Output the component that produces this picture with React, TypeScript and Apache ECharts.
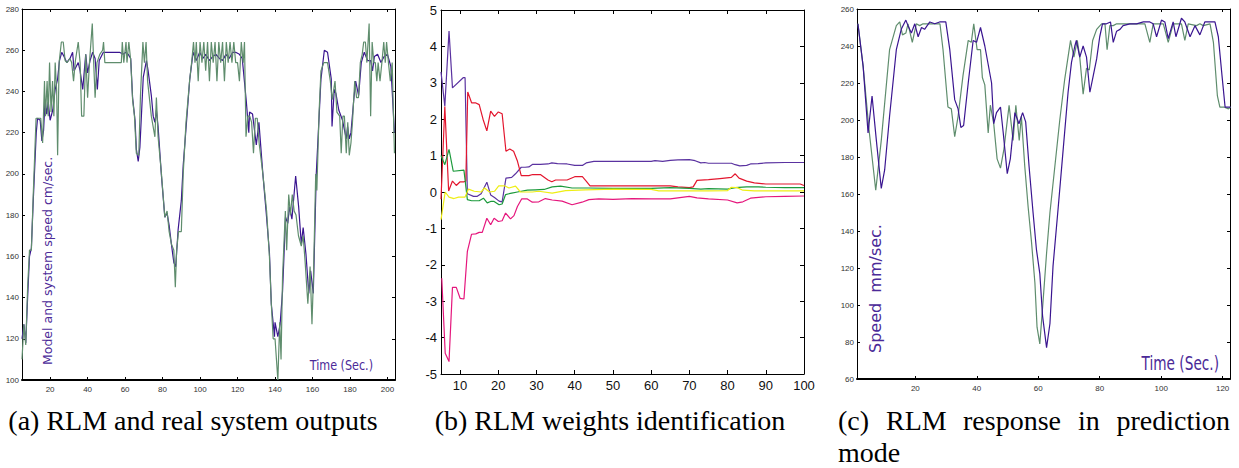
import React, { useEffect, useRef } from "react";
import * as echarts from "echarts";

// ---------- (a) RLM and real system outputs ----------
const A_X_TICKS = [20, 40, 60, 80, 100, 120, 140, 160, 180, 200];
const A_Y_TICKS = [100, 120, 140, 160, 180, 200, 220, 240, 260, 280];
const A_MODEL: [number, number][] = [
  [5, 120], [6, 127], [7, 118], [8, 140], [9, 160], [10, 164], [11, 187], [12.6, 220], [13.3, 227], [14.7, 226],
  [15.6, 216], [16.5, 221], [17.3, 236], [18.2, 229], [19, 235], [20, 226], [21.4, 231], [22.7, 241], [24, 246],
  [25, 255], [26.2, 259], [27.4, 257], [28.9, 254], [30.6, 256], [32, 259], [32.8, 250], [35, 254], [36, 250],
  [37.4, 241], [39, 258], [40, 249], [41.3, 255], [42.7, 259], [44, 256], [45.2, 241], [46.2, 255], [48.4, 259],
  [50, 259], [57, 259], [59, 258], [60.4, 259], [61.7, 258], [63, 256], [64, 237], [65.3, 226], [66, 212],
  [67, 206], [67.9, 213], [69.7, 247], [71.4, 255], [72.3, 250], [74, 238], [75, 228], [75.9, 225], [76.7, 231],
  [77.6, 223], [79.4, 199], [81.2, 179], [82.4, 181], [83.5, 175], [84.7, 166], [86, 157], [87, 155], [88.3, 173],
  [90, 187], [91, 204], [92.5, 222], [94.5, 246], [96.3, 259], [98, 255], [99.8, 259], [101.5, 256], [103, 258],
  [105, 255], [106.8, 257], [108.5, 258], [110.3, 256], [112, 255], [113.8, 258], [115.5, 256], [117.4, 259],
  [119, 259], [121, 258], [122.5, 256], [124.6, 236], [126, 220], [126.4, 230], [128, 229], [130, 214],
  [131.4, 225], [133.5, 200], [135.3, 181], [137, 162], [138, 137], [139.7, 121], [140, 128], [141.5, 121],
  [142.7, 127], [144, 143], [145.6, 179], [146.8, 176], [147.7, 184], [149, 178], [151, 199], [152.6, 184],
  [154, 166], [155, 174], [156.5, 161], [158, 142], [159, 153], [160.4, 142], [162, 200], [164.5, 246],
  [166.3, 260], [168, 259], [170, 246], [170.4, 223], [171.6, 241], [172.5, 239], [174, 231], [176, 226],
  [178, 217], [178.7, 223], [179.6, 217], [180.5, 220], [182, 236], [183, 245], [184.6, 238], [186, 254],
  [187.6, 259], [189.4, 255], [191, 255], [192, 250], [193, 257], [194.7, 258], [196.5, 254], [198.2, 257],
  [200, 258], [201.8, 252], [203.7, 220],
];
const A_SYSTEM: [number, number][] = [
  [5, 110], [6, 127], [7, 117], [8, 145], [9, 163], [10, 163], [11, 190], [12.5, 227], [14, 227], [15, 227],
  [16, 215], [17, 245], [17.5, 228], [18.4, 245], [19, 228], [19.7, 254], [20.5, 230], [21.3, 245], [22, 228],
  [22.7, 254], [23.5, 240], [24, 209], [24.8, 254], [26, 264], [27, 264], [28, 255], [29, 254], [30.5, 256],
  [31.5, 254], [32.5, 245], [33.5, 255], [35, 264], [36, 254], [36.8, 228], [38, 228], [39, 258], [40, 237],
  [41, 254], [42.5, 273], [43.2, 255], [44, 237], [45, 254], [46.5, 258], [48, 260], [48.5, 264], [49.2, 254],
  [50, 254], [58, 254], [58.5, 264], [59.3, 254], [60.5, 264], [61, 254], [62, 264], [63, 255], [64, 236],
  [65, 228], [66, 210], [67.3, 209], [68.2, 238], [69.5, 264], [70.3, 254], [71.2, 264], [72, 245], [74, 228],
  [75.9, 218], [76.7, 237], [77.6, 218], [79.4, 200], [81.2, 179], [82.4, 182], [83.5, 172], [84.7, 166],
  [86, 163], [86.8, 145], [87.5, 163], [88.5, 172], [90, 172], [91, 200], [92.5, 225], [94.5, 246], [95.5, 254],
  [96.5, 264], [97.3, 254], [98, 264], [99, 245], [100, 264], [101, 254], [102, 264], [103, 250], [104, 264],
  [105, 245], [106, 264], [107, 254], [108, 264], [109, 245], [110, 264], [111, 254], [112, 264], [113, 245],
  [114, 264], [115, 254], [116, 264], [117, 254], [118, 264], [119, 254], [120, 254], [121, 245], [122, 264],
  [123, 254], [123.7, 264], [124.5, 218], [125.5, 228], [126.5, 228], [127.5, 225], [128.5, 210], [129.5, 227],
  [130.5, 227], [131.5, 215], [133.5, 200], [135.5, 182], [137, 160], [138, 137], [139, 120], [140, 120],
  [141.5, 100], [142.5, 128], [143.2, 110], [144, 150], [145.5, 182], [146.2, 163], [147.3, 190], [148.2, 180],
  [149.2, 190], [150.2, 182], [151.2, 180], [152.5, 170], [154, 165], [155, 170], [156, 158], [157.5, 137],
  [158.7, 155], [159.7, 127], [160.5, 150], [161.7, 200], [162.3, 192], [163.5, 230], [164.5, 250], [166, 254],
  [168, 254], [169.5, 245], [170.5, 236], [172, 245], [173, 230], [174.5, 228], [175.3, 210], [176.2, 228],
  [177, 228], [178, 210], [178.8, 225], [179.6, 209], [180.5, 215], [181.3, 225], [182.5, 245], [183.5, 237],
  [184.5, 237], [185.5, 254], [186.5, 258], [187.3, 264], [188.2, 264], [189, 254], [190.2, 273], [191, 228],
  [191.8, 264], [192.7, 254], [193.5, 254], [194.3, 245], [195, 254], [196, 245], [197, 254], [198, 264],
  [198.8, 254], [199.5, 264], [200.5, 254], [201.5, 245], [202.5, 254], [203.7, 210],
];

// ---------- (b) RLM weights identification ----------
const B_X_TICKS = [10, 20, 30, 40, 50, 60, 70, 80, 90, 100];
const B_Y_TICKS = [-5, -4, -3, -2, -1, 0, 1, 2, 3, 4, 5];
const B_PURPLE: [number, number][] = [
  [5, 3.3], [6, 2.36], [7.1, 4.42], [8, 2.86], [10.8, 3.14], [11.3, 3.14], [11.9, -0.05], [13.5, -0.12],
  [14.5, -0.12], [15.5, -0.05], [17, 0.27], [18, -0.08], [19, -0.15], [20.2, -0.25], [21, -0.27], [22, 0.38],
  [23.5, 0.4], [24.5, 0.5], [26, 0.68], [27, 0.68], [28, 0.69], [29, 0.76], [31, 0.76], [33, 0.77], [34, 0.8],
  [35.5, 0.78], [38, 0.77], [40, 0.73], [42, 0.73], [43, 0.8], [45, 0.84], [50, 0.84], [55, 0.84], [60, 0.84],
  [61, 0.86], [63, 0.84], [65, 0.87], [67, 0.88], [70, 0.89], [71.5, 0.86], [73, 0.8], [74, 0.81], [75, 0.79],
  [78, 0.79], [81, 0.79], [82, 0.75], [83.2, 0.72], [85, 0.73], [86, 0.77], [88, 0.78], [90, 0.8], [95, 0.81],
  [100, 0.81],
];
const B_RED: [number, number][] = [
  [5, -0.2], [6, 2.35], [7, 0.03], [8, 0.3], [9, 0.18], [10, 0.28], [11, 0.28], [11.5, 0.3], [12, 2.75],
  [13, 2.45], [14, 2.45], [15, 2.4], [16, 2.0], [17, 1.68], [18, 2.22], [19, 2.08], [20, 2.2], [21, 2.15],
  [22, 1.12], [23, 1.18], [24, 1.12], [25, 0.85], [26, 0.45], [28, 0.45], [29, 0.48], [31, 0.48], [33, 0.33],
  [34, 0.28], [35, 0.33], [38, 0.33], [40, 0.42], [42, 0.42], [43, 0.3], [44, 0.17], [50, 0.17], [60, 0.17],
  [65, 0.17], [67, 0.14], [70, 0.12], [71, 0.14], [72, 0.32], [75, 0.34], [78, 0.37], [81, 0.4], [82, 0.5],
  [83, 0.38], [85, 0.3], [87, 0.25], [90, 0.22], [99, 0.22], [100, 0.18],
];
const B_GREEN: [number, number][] = [
  [5, 1.0], [6, 0.75], [7.1, 1.17], [8.2, 0.57], [11, 0.6], [11.9, -0.21], [13, -0.24], [15, -0.24],
  [16.1, -0.17], [17.1, -0.3], [18, -0.26], [18.9, -0.26], [20.2, -0.35], [21, -0.33], [21.9, -0.07],
  [23.5, -0.03], [25, 0.0], [27.6, 0.05], [29.7, 0.06], [32, 0.07], [34.1, 0.14], [36.3, 0.16], [39.3, 0.11],
  [43.7, 0.11], [50, 0.1], [60, 0.1], [65, 0.12], [70, 0.1], [73, 0.08], [75, 0.09], [80, 0.08], [82, 0.12],
  [85, 0.14], [88, 0.14], [90, 0.13], [95, 0.12], [100, 0.12],
];
const B_YELLOW: [number, number][] = [
  [5, -0.76], [6.1, 0.0], [7.1, -0.14], [8.4, -0.18], [9.6, -0.14], [11.3, -0.14], [12.2, 0.08], [13.7, 0.02],
  [15.5, 0.0], [16.4, 0.11], [17.7, 0.0], [19, 0.02], [20.1, 0.17], [21.6, 0.17], [22.8, 0.11], [24.5, 0.16],
  [25.8, 0.0], [28.9, 0.0], [30.6, 0.02], [34.1, -0.03], [37.6, 0.04], [42.8, 0.06], [50, 0.08], [60, 0.07],
  [62, 0.03], [70, 0.03], [75, 0.03], [80, 0.04], [81, 0.13], [82.5, 0.12], [84, 0.05], [87, 0.03], [100, 0.03],
];
const B_MAGENTA: [number, number][] = [
  [5.2, -2.37], [6.1, -4.43], [7.1, -4.66], [8, -2.62], [9, -2.62], [10, -2.92], [11, -2.94], [11.9, -1.63],
  [13, -1.16], [14.1, -1.15], [15, -1.11], [15.8, -1.11], [17, -0.72], [18, -0.9], [18.9, -0.72], [20, -0.81],
  [21, -0.79], [21.9, -0.58], [23.2, -0.74], [24.1, -0.65], [25, -0.4], [26.1, -0.19], [27.6, -0.19],
  [28.9, -0.28], [30.6, -0.27], [32.3, -0.18], [34.1, -0.22], [36.7, -0.25], [39.3, -0.35], [41.9, -0.28],
  [43.7, -0.21], [46.3, -0.19], [50, -0.2], [55, -0.18], [60, -0.19], [65, -0.19], [70, -0.12], [72, -0.16],
  [75, -0.19], [80, -0.22], [82.5, -0.3], [84, -0.27], [86, -0.17], [90, -0.13], [95, -0.12], [100, -0.11],
];

// ---------- (c) RLM response in prediction mode ----------
const C_X_TICKS = [20, 40, 60, 80, 100, 120];
const C_Y_TICKS = [60, 80, 100, 120, 140, 160, 180, 200, 220, 240, 260];
const C_MODEL: [number, number][] = [
  [1.3, 252], [3, 229], [4.6, 193], [5.9, 213], [7.3, 189], [8.9, 163], [10, 173], [11.6, 202], [13.8, 238],
  [15.4, 249], [16.9, 254], [17.6, 251], [18.7, 247], [19.8, 252], [20.9, 245], [22, 250], [23, 249],
  [24.7, 253], [26.3, 252], [27.9, 253], [29.9, 253], [31.2, 238], [32.8, 211], [33.9, 206], [34.8, 196],
  [35.7, 197], [37.2, 220], [38.8, 243], [39.9, 242], [41.2, 250], [42.6, 240], [43.7, 230], [44.8, 220],
  [45.5, 198], [46.4, 204], [47.7, 207], [48.6, 193], [49.9, 171], [50.9, 179], [52.4, 204], [53.7, 198],
  [54.9, 204], [55.9, 199], [57, 175], [58.3, 150], [59.4, 130], [60.5, 117], [61.4, 94], [62.7, 77],
  [63.8, 90], [64.8, 121], [66.5, 153], [68.1, 184], [69.7, 215], [70.8, 231], [71.9, 240], [72.4, 243],
  [73.5, 234], [74.6, 240], [75.7, 234], [76.8, 215], [77.9, 224], [79, 233], [80, 245], [80.9, 252],
  [82.2, 252], [83.5, 253], [84.4, 242], [85.5, 248], [86.6, 249], [87.6, 251], [89.8, 252], [92, 252],
  [94.2, 253], [96.3, 253], [97.4, 252], [98.5, 245], [100.1, 254], [101.2, 253], [102.3, 244], [103.9, 253],
  [104.8, 245], [106.6, 255], [107.7, 253], [109.4, 245], [111, 251], [112.6, 246], [114.2, 253], [115.9, 253],
  [117.5, 253], [118.6, 245], [119.8, 224], [120.8, 207], [121.9, 207], [122.6, 207],
];
const C_SYSTEM: [number, number][] = [
  [1.3, 252], [3, 229], [4.9, 195], [7.1, 162], [8.9, 189], [11.6, 238], [13.8, 251], [14.9, 253], [15.8, 246],
  [16.9, 247], [17.6, 252], [19, 242], [20.3, 252], [21.4, 251], [22.5, 252], [24.7, 252], [27.4, 252],
  [28, 252], [29, 238], [30.6, 207], [31.7, 206], [32.8, 191], [33.9, 202], [35.5, 224], [37.2, 243],
  [38.2, 242], [39, 252], [40.1, 238], [41.2, 238], [41.8, 223], [42.6, 219], [43.7, 193], [44.4, 208],
  [45.5, 198], [46.6, 179], [47.7, 174], [48.8, 184], [50.5, 208], [51.8, 189], [52.7, 208], [53.8, 189],
  [54.5, 202], [55.6, 175], [56.7, 153], [57.8, 134], [58.9, 112], [59.6, 88], [60.5, 79], [61.6, 103],
  [62.7, 128], [63.8, 150], [65.4, 175], [67, 200], [68.6, 222], [70.5, 243], [71.6, 234], [72.7, 243],
  [73.5, 234], [74.6, 214], [75.7, 228], [76.6, 227], [77.7, 243], [79, 249], [80.6, 252], [81.7, 252],
  [82.4, 238], [83.3, 251], [84.4, 251], [85.5, 252], [87.6, 252], [89.8, 252], [93, 252], [94.7, 252],
  [96.3, 242], [97.4, 252], [100.7, 252], [102.3, 242], [103.9, 252], [106.6, 252], [107.7, 243], [108.8, 252],
  [111.5, 251], [112.6, 252], [113.7, 251], [115.9, 252], [117, 242], [118.3, 213], [119.1, 207], [120.4, 207],
  [121.9, 206], [122.6, 207],
];

const CAPTION_A = "(a) RLM and real system outputs";
const CAPTION_B = "(b) RLM weights identification";
const CAPTION_C_WORDS = ["(c)", "RLM", "response", "in", "prediction"];
const CAPTION_C_LINE2 = "mode";

const NARROW = "'Liberation Sans Narrow', 'Arial Narrow', 'Liberation Sans', sans-serif";
const SERIF = "'Liberation Serif', 'Times New Roman', serif";
const LABEL_PURPLE = "#4b2a98";

function frameAxes(
  gridIndex: number, xMin: number, xMax: number, xTicks: number[], yMin: number, yMax: number, yTicks: number[],
  o: { fontSize: number; color: string; bottomWidth: number; tickLen: number; xMargin: number; yMargin: number }
) {
  const tick = (vals: number[]) => ({ show: true, inside: true, length: o.tickLen, customValues: vals, lineStyle: { color: "#000", width: 1 } });
  const line = (w: number) => ({ show: true, onZero: false, lineStyle: { color: "#000", width: w } });
  const label = (vals: number[], margin: number) => ({
    show: true, customValues: vals, fontSize: o.fontSize, color: o.color, fontFamily: NARROW, margin,
  });
  const xs = [
    { type: "value", gridIndex, min: xMin, max: xMax, position: "bottom", axisLine: line(o.bottomWidth), axisTick: tick(xTicks), axisLabel: label(xTicks, o.xMargin), splitLine: { show: false } },
    { type: "value", gridIndex, min: xMin, max: xMax, position: "top", axisLine: line(1), axisTick: tick(xTicks), axisLabel: { show: false }, splitLine: { show: false } },
  ];
  const ys = [
    { type: "value", gridIndex, min: yMin, max: yMax, position: "left", axisLine: line(1), axisTick: tick(yTicks), axisLabel: label(yTicks, o.yMargin), splitLine: { show: false } },
    { type: "value", gridIndex, min: yMin, max: yMax, position: "right", axisLine: line(1), axisTick: tick(yTicks), axisLabel: { show: false }, splitLine: { show: false } },
  ];
  return { xs, ys };
}

function line(data: [number, number][], axis: number, color: string, width = 1.2) {
  return {
    type: "line", xAxisIndex: axis, yAxisIndex: axis, data, showSymbol: false, symbol: "none", silent: true,
    lineStyle: { color, width }, itemStyle: { color },
  };
}

export default function App() {
  const ref = useRef<HTMLDivElement>(null);
  useEffect(() => {
    if (!ref.current) return;
    const chart = echarts.init(ref.current, null, { renderer: "svg" });
    const smallOpts = { fontSize: 8, color: "#333", bottomWidth: 2, tickLen: 3, xMargin: 5, yMargin: 3 };
    const a = frameAxes(0, 5, 204, A_X_TICKS, 100, 280, A_Y_TICKS, smallOpts);
    const b = frameAxes(1, 5, 100, B_X_TICKS, -5, 5, B_Y_TICKS, { fontSize: 13, color: "#111", bottomWidth: 1, tickLen: 4, xMargin: 5, yMargin: 4 });
    const c = frameAxes(2, 1, 122.4, C_X_TICKS, 60, 260, C_Y_TICKS, smallOpts);

    const capFont = "28px " + SERIF;
    const cX = [838, 886, 963, 1078, 1230];
    const option: any = {
      animation: false,
      backgroundColor: "#fff",
      grid: [
        { left: 22, top: 9, width: 373, height: 371 },
        { left: 441, top: 10, width: 363, height: 364 },
        { left: 857, top: 9, width: 373, height: 370 },
      ],
      xAxis: [...a.xs, ...b.xs, ...c.xs],
      yAxis: [...a.ys, ...b.ys, ...c.ys],
      series: [
        line(A_MODEL, 0, "#3a1590"),
        line(A_SYSTEM, 0, "#5f8d6d"),
        line(B_PURPLE, 2, "#5a32a0"),
        line(B_RED, 2, "#e3162e"),
        line(B_GREEN, 2, "#1c9a3c"),
        line(B_YELLOW, 2, "#eeee14"),
        line(B_MAGENTA, 2, "#e5177d"),
        line(C_SYSTEM, 4, "#5f8d6d"),
        line(C_MODEL, 4, "#3a1590"),
      ],
      graphic: [
        { type: "text", x: 47, y: 365, rotation: Math.PI / 2, style: { text: "Model and system speed cm/sec.", fill: LABEL_PURPLE, font: "12.5px 'DejaVu Sans', sans-serif", align: "left", verticalAlign: "middle" } },
        { type: "text", x: 373, y: 365, scaleX: 0.8, style: { text: "Time (Sec.)", fill: LABEL_PURPLE, font: "14px 'DejaVu Sans', sans-serif", align: "right", verticalAlign: "middle" } },
        { type: "text", x: 875, y: 353, rotation: Math.PI / 2, style: { text: "Speed  mm/sec.", fill: LABEL_PURPLE, font: "16px 'DejaVu Sans', sans-serif", align: "left", verticalAlign: "middle" } },
        { type: "text", x: 1219, y: 364, scaleX: 0.72, style: { text: "Time (Sec.)", fill: LABEL_PURPLE, font: "19px 'DejaVu Sans', sans-serif", align: "right", verticalAlign: "middle" } },
        { type: "text", x: 193, y: 420, style: { text: CAPTION_A, fill: "#000", font: capFont, align: "center", verticalAlign: "middle" } },
        { type: "text", x: 610, y: 420, style: { text: CAPTION_B, fill: "#000", font: capFont, align: "center", verticalAlign: "middle" } },
        ...CAPTION_C_WORDS.map((w, i) => ({
          type: "text", x: cX[i], y: 420,
          style: { text: w, fill: "#000", font: capFont, align: i === CAPTION_C_WORDS.length - 1 ? "right" : "left", verticalAlign: "middle" },
        })),
        { type: "text", x: 838, y: 452, style: { text: CAPTION_C_LINE2, fill: "#000", font: capFont, align: "left", verticalAlign: "middle" } },
      ],
    };
    chart.setOption(option);
    return () => chart.dispose();
  }, []);
  return <div ref={ref} style={{ position: "absolute", left: 0, top: 0, width: 1239, height: 468 }} />;
}
